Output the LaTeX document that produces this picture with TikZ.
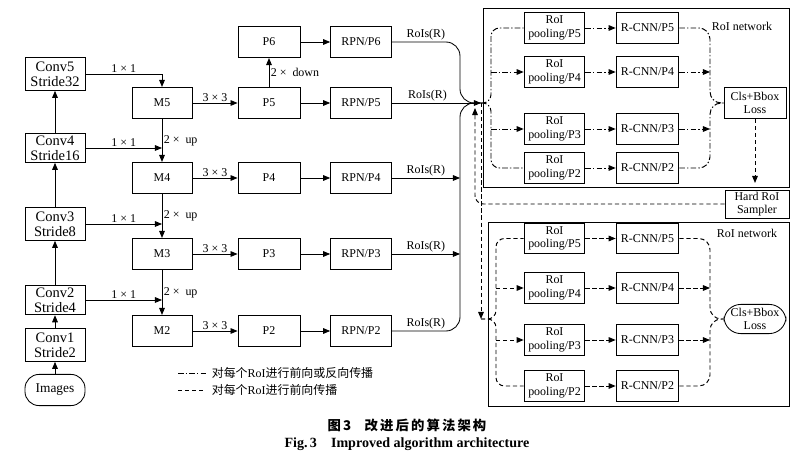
\documentclass[tikz,border=0pt]{standalone}
\usepackage{fontspec}
\setmainfont{Liberation Serif}
\newfontfamily\cjk{Noto Sans CJK SC}
\usetikzlibrary{arrows.meta,positioning}
\tikzset{every picture/.style={line width=0.6pt}}
\tikzset{
  blk/.style={draw, align=center, inner sep=1pt, minimum width=1.5cm, minimum height=0.78cm, font=\fontsize{8.5}{9.5}\selectfont},
  cblk/.style={blk, minimum height=0.82cm, font=\fontsize{10.3}{10.5}\selectfont},
  lbl/.style={inner sep=1pt, font=\fontsize{8.5}{9.5}\selectfont},
  arr/.style={-{Triangle[length=5pt,width=4pt]}},
  dd/.style={line width=0.7pt, dash pattern=on 4pt off 1.5pt on 1pt off 1.5pt},
  ds/.style={line width=0.7pt, dash pattern=on 3pt off 2pt},
}

\begin{document}
\begin{tikzpicture}[x=0.025cm, y=-0.025cm]
\useasboundingbox (0,0) rectangle (811,465);
% backbone
\node[blk, rounded corners=10pt, font=\fontsize{9.5}{10}\selectfont] (img) at (55,390) {Images};
\node[cblk] (c1) at (55,345) {Conv1\\Stride2};
\node[cblk, minimum height=0.74cm] (c2) at (55,300) {Conv2\\Stride4};
\node[cblk] (c3) at (55,224) {Conv3\\Stride8};
\node[cblk, minimum height=0.72cm] (c4) at (55,148) {Conv4\\Stride16};
\node[cblk] (c5) at (55,74) {Conv5\\Stride32};
\foreach \a/\b in {img/c1, c1/c2, c2/c3, c3/c4, c4/c5}
\draw[arr] (\a) -- (\b);
%
\foreach \i/\y in {5/103, 4/178, 3/254, 2/331}{
  \node[blk] (m\i) at (162,\y) {M\i};
  \node[blk, minimum width=1.55cm] (p\i) at (269,\y) {P\i};
  \node[blk, minimum width=1.52cm] (rpn\i) at (361,\y) {RPN/P\i};
  \draw[arr] (m\i) -- node[lbl, above] {3 × 3} (p\i);
  \draw[arr] (p\i) -- (rpn\i);
}
\node[blk, minimum width=1.55cm] (p6) at (269,42) {P6};
\node[blk, minimum width=1.52cm] (rpn6) at (361,42) {RPN/P6};
\draw[arr] (p5) -- node[lbl, right] {2 × \ down} (p6);
\draw[arr] (p6) -- (rpn6);
%
\draw[arr] (c5.east) -| node[lbl, above, pos=0.25] {1 × 1} (m5.north);
\foreach \a/\b in {c4/m4, c3/m3, c2/m2}
\draw[arr] (\a.east) -- node[lbl, above] {1 × 1} (\a.east -| \b.north);
\foreach \a/\b in {m5/m4, m4/m3, m3/m2}
\draw[arr] (\a) -- node[lbl, right] {2 × \ up} (\b);
%
\coordinate (jv) at (460,103);
\coordinate (jt) at (481,103);
\coordinate (jb) at (481,319);
\draw[rounded corners=10pt] (rpn6.east) -| node[lbl, above, pos=0.25] {RoIs(R)} (jv) -- (jt);
\draw[rounded corners=10pt] (rpn2.east) -| node[lbl, above, pos=0.25] {RoIs(R)} (jv) -- (jt);
\draw[arr] (rpn5.east) -- node[lbl, above, pos=0.4] {RoIs(R)} (jt);
\foreach \i in {4,3}
\draw[arr] (rpn\i.east) -- node[lbl, above] {RoIs(R)} (rpn\i.east -| jv);
%
% RoI network (top)
\draw (483,8) rectangle (789,187);
\node[lbl] (netA) at (742,26) {RoI network};
\foreach \i/\y in {5/28, 4/72, 3/129, 2/168}{
  \node[blk, minimum width=1.52cm, minimum height=0.76cm] (ra\i) at (554.5,\y) {RoI\\pooling/P\i};
  \node[blk, minimum width=1.57cm, minimum height=0.76cm] (ca\i) at (647.5,\y) {R-CNN/P\i};
  \draw[dd, arr] (ra\i) -- (ca\i);
}
\node[blk, minimum width=1.55cm] (clsA) at (755,103) {Cls+Bbox\\Loss};
\coordinate (tl) at (491,103);
\coordinate (tr) at (710,103);
\draw[dd, rounded corners=6pt] (jt) -- (tl) |- (ra5.west);
\draw[dd, rounded corners=6pt] (jt) -- (tl) |- (ra2.west);
\draw[dd, rounded corners=8pt] (ca5.east) -| (tr) -- (clsA.west);
\draw[dd, rounded corners=8pt] (ca2.east) -| (tr) -- (clsA.west);
\foreach \i in {4,3}{
  \draw[dd, arr] (tl |- ra\i.west) -- (ra\i.west);
  \draw[dd, arr] (ca\i.east) -- (ca\i.east -| tr);
}
%
\node[blk, minimum width=1.6cm, minimum height=0.7cm] (hard) at (757,204) {Hard RoI\\Sampler};
\coordinate (clsend) at (755,183);
\coordinate (fb) at (475,108);
\draw[ds, arr] (clsA) -- (clsend);
\draw[ds, arr, rounded corners=6pt] (hard.west) -| (fb);
\draw[ds, arr] (jt) -- (jb);
%
% RoI network (bottom)
\draw (488,222) rectangle (789,406);
\node[lbl] (netB) at (747,233) {RoI network};
\foreach \i/\y in {5/238.5, 4/288, 3/340, 2/386}{
  \node[blk, minimum width=1.52cm, minimum height=0.76cm] (rb\i) at (554.5,\y) {RoI\\pooling/P\i};
  \node[blk, minimum width=1.57cm, minimum height=0.76cm] (cb\i) at (647.5,\y) {R-CNN/P\i};
  \draw[ds, arr] (rb\i) -- (cb\i);
}
\node[blk, rounded corners=12pt, minimum width=1.55cm, minimum height=0.73cm] (clsB) at (755,319) {Cls+Bbox\\Loss};
\coordinate (bl) at (496,319);
\coordinate (br) at (710,319);
\draw[ds, rounded corners=6pt] (jb) -- (bl) |- (rb5.west);
\draw[ds, rounded corners=6pt] (jb) -- (bl) |- (rb2.west);
\draw[ds, rounded corners=8pt] (cb5.east) -| (br) -- (clsB.west);
\draw[ds, rounded corners=8pt] (cb2.east) -| (br) -- (clsB.west);
\foreach \i in {4,3}{
  \draw[ds, arr] (bl |- rb\i.west) -- (rb\i.west);
  \draw[ds, arr] (cb\i.east) -- (cb\i.east -| br);
}
%
% legend
\node[lbl, anchor=west] (lg1) at (210,373) {{\cjk 对每个}RoI{\cjk 进行前向或反向传播}};
\node[lbl, anchor=west] (lg2) at (210,390) {{\cjk 对每个}RoI{\cjk 进行前向传播}};
\draw[dd] (178,373) -- (206,373);
\draw[ds] (178,390) -- (206,390);
%
\node[font=\cjk\bfseries\fontsize{9.5}{10}\selectfont] (cap1) at (407,425)
  {图\,3\quad 改\hspace{1.5pt}进\hspace{1.5pt}后\hspace{1.5pt}的\hspace{1.5pt}算\hspace{1.5pt}法\hspace{1.5pt}架\hspace{1.5pt}构};
\node[font=\bfseries\fontsize{10}{11}\selectfont] (cap2) at (407,444) {Fig.\,3\quad Improved algorithm architecture};
\end{tikzpicture}
\end{document}
